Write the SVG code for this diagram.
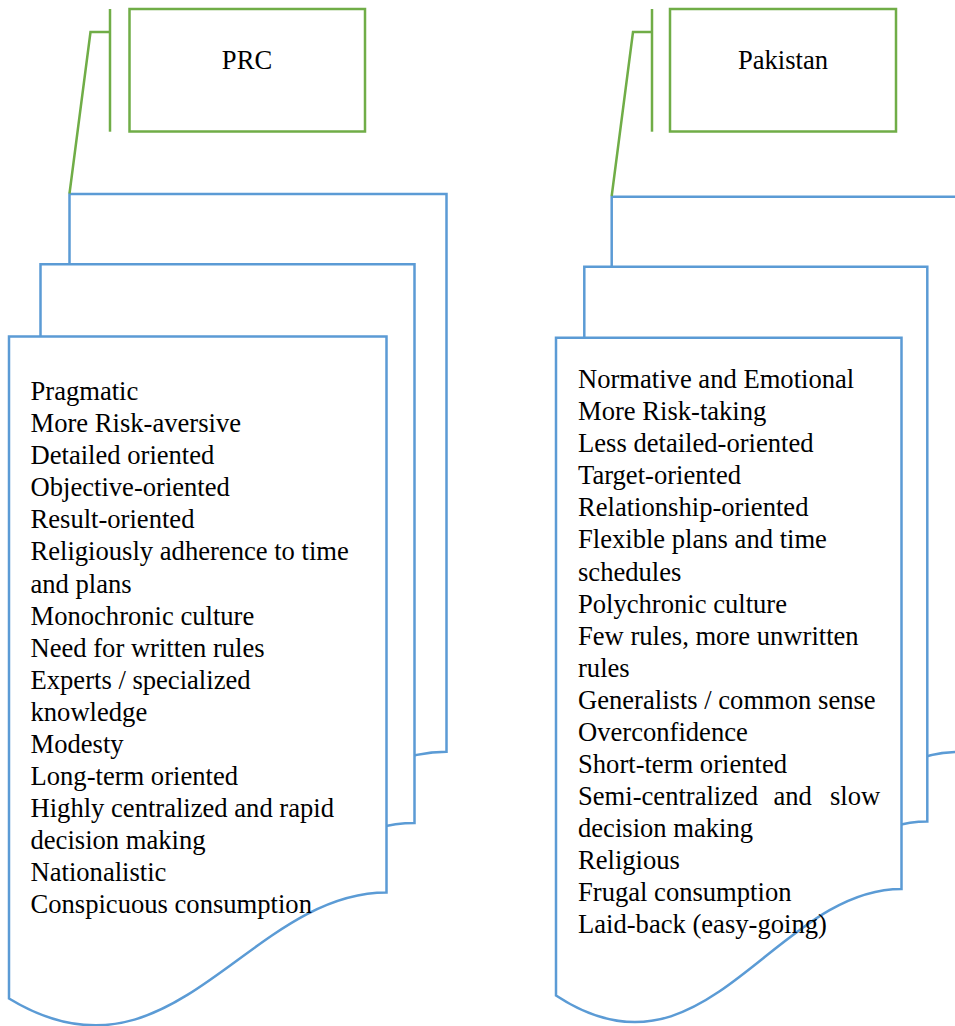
<svg xmlns="http://www.w3.org/2000/svg" width="955" height="1026" viewBox="0 0 955 1026">
<style>
.doc{fill:#ffffff;stroke:#5B9BD5;stroke-width:2.5;stroke-linejoin:miter}
.acc{fill:#ffffff;stroke:#70AD47;stroke-width:2.5}
.lead{fill:none;stroke:#70AD47;stroke-width:2.5}
.t{font-family:"Liberation Serif","Times New Roman",serif;font-size:26.6px;fill:#000000}
.c{text-anchor:middle}
</style>
<rect width="955" height="1026" fill="#ffffff"/>
<g id="docs-prc">
<path class="doc" d="M69.5,194 L446.5,194 L446.5,751.7 C307,751.7 231.6,956.7 69.5,857.7 Z"/>
<path class="doc" d="M40.5,264.3 L414.5,264.3 L414.5,823 C276.1,823 201.3,1028 40.5,929 Z"/>
<path class="doc" d="M9,336.5 L386.5,336.5 L386.5,892.5 C246.8,892.5 171.3,1097.5 9,998.5 Z"/>
<text class="t" x="30.5" y="400">Pragmatic</text>
<text class="t" x="30.5" y="432.1">More Risk-aversive</text>
<text class="t" x="30.5" y="464.2">Detailed oriented</text>
<text class="t" x="30.5" y="496.2">Objective-oriented</text>
<text class="t" x="30.5" y="528.3">Result-oriented</text>
<text class="t" x="30.5" y="560.4">Religiously adherence to time</text>
<text class="t" x="30.5" y="592.5">and plans</text>
<text class="t" x="30.5" y="624.6">Monochronic culture</text>
<text class="t" x="30.5" y="656.6">Need for written rules</text>
<text class="t" x="30.5" y="688.7">Experts / specialized</text>
<text class="t" x="30.5" y="720.8">knowledge</text>
<text class="t" x="30.5" y="752.9">Modesty</text>
<text class="t" x="30.5" y="785">Long-term oriented</text>
<text class="t" x="30.5" y="817">Highly centralized and rapid</text>
<text class="t" x="30.5" y="849.1">decision making</text>
<text class="t" x="30.5" y="881.2">Nationalistic</text>
<text class="t" x="30.5" y="913.3">Conspicuous consumption</text>
</g>
<g id="docs-pakistan">
<path class="doc" d="M611.7,196.7 L958,196.7 L958,752 C829.9,752 760.6,957 611.7,858 Z"/>
<path class="doc" d="M584.3,266.7 L927.3,266.7 L927.3,821.5 C800.4,821.5 731.8,1026.5 584.3,927.5 Z"/>
<path class="doc" d="M556,337.7 L901.5,337.7 L901.5,889 C773.7,889 704.6,1094 556,995.5 Z"/>
<text class="t" x="578" y="388">Normative and Emotional</text>
<text class="t" x="578" y="420.1">More Risk-taking</text>
<text class="t" x="578" y="452.2">Less detailed-oriented</text>
<text class="t" x="578" y="484.2">Target-oriented</text>
<text class="t" x="578" y="516.3">Relationship-oriented</text>
<text class="t" x="578" y="548.4">Flexible plans and time</text>
<text class="t" x="578" y="580.5">schedules</text>
<text class="t" x="578" y="612.6">Polychronic culture</text>
<text class="t" x="578" y="644.6">Few rules, more unwritten</text>
<text class="t" x="578" y="676.7">rules</text>
<text class="t" x="578" y="708.8">Generalists / common sense</text>
<text class="t" x="578" y="740.9">Overconfidence</text>
<text class="t" x="578" y="773">Short-term oriented</text>
<text class="t" y="805"><tspan x="578">Semi-centralized</tspan><tspan x="773.5">and</tspan><tspan x="830">slow</tspan></text>
<text class="t" x="578" y="837.1">decision making</text>
<text class="t" x="578" y="869.2">Religious</text>
<text class="t" x="578" y="901.3">Frugal consumption</text>
<text class="t" x="578" y="933.4">Laid-back (easy-going)</text>
</g>
<g id="callout-prc">
<rect class="acc" x="129.5" y="9" width="235.5" height="122.5"/>
<line class="lead" x1="110" y1="9" x2="110" y2="131.7"/>
<text class="t c" x="247" y="69.3">PRC</text>
</g>
<g id="callout-pakistan">
<rect class="acc" x="670" y="9" width="226" height="122.5"/>
<line class="lead" x1="652" y1="9" x2="652" y2="131.7"/>
<text class="t c" x="783" y="69.3">Pakistan</text>
</g>
<g id="connectors">
<polyline class="lead" points="110,32 90.5,32 69.5,193.5"/>
<polyline class="lead" points="652,32 633,32 611.7,196"/>
</g>
</svg>
